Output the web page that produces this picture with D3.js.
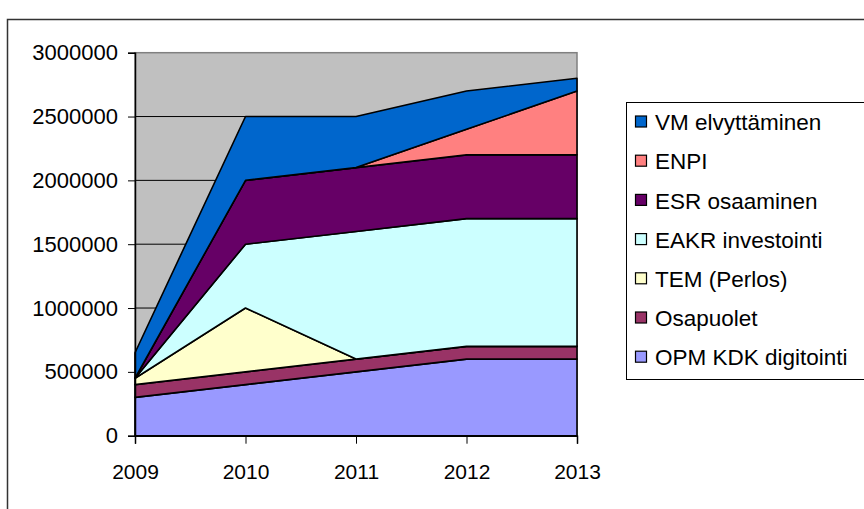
<!DOCTYPE html>
<html>
<head>
<meta charset="utf-8">
<script src="https://cdn.jsdelivr.net/npm/d3@7"></script>
<style>
  html, body { margin: 0; padding: 0; background: #fff; }
  svg { display: block; font-family: "Liberation Sans", Arial, sans-serif; }
</style>
</head>
<body>
<svg id="chart" width="864" height="509"></svg>
<script>
const years = ["2009", "2010", "2011", "2012", "2013"];
const seriesNames = ["OPM KDK digitointi", "Osapuolet", "TEM (Perlos)", "EAKR investointi", "ESR osaaminen", "ENPI", "VM elvyttäminen"];
const opmKdk   = [300000, 400000, 500000, 600000, 600000];
const osapuolet = [100000, 100000, 100000, 100000, 100000];
const temPerlos = [50000, 500000, 0, 0, 0];
const eakr     = [0, 500000, 1000000, 1000000, 1000000];
const esr      = [0, 500000, 500000, 500000, 500000];
const enpi     = [0, 0, 0, 200000, 500000];
const vm       = [200000, 500000, 400000, 300000, 100000];
const yTicks = [0, 500000, 1000000, 1500000, 2000000, 2500000, 3000000];
const colors = ["#9999FF", "#993366", "#FFFFCC", "#CCFFFF", "#660066", "#FF8080", "#0066CC"];

const seriesValues = [opmKdk, osapuolet, temPerlos, eakr, esr, enpi, vm];
const table = years.map((yr, i) => {
  const row = { year: yr };
  seriesNames.forEach((n, k) => row[n] = seriesValues[k][i]);
  return row;
});

const svg = d3.select("#chart");
const pLeft = 135, pRight = 577, pTop = 52.7, pBottom = 435.7;

// outer frame
svg.append("rect").attr("x", 7.5).attr("y", 19.5).attr("width", 900).attr("height", 600)
  .attr("fill", "none").attr("stroke", "#333").attr("stroke-width", 1.5);

const x = d3.scalePoint().domain(years).range([pLeft, pRight]);
const y = d3.scaleLinear().domain([0, 3000000]).range([pBottom, pTop]);

// plot area background
svg.append("rect").attr("x", pLeft).attr("y", pTop).attr("width", pRight - pLeft).attr("height", pBottom - pTop)
  .attr("fill", "#C0C0C0").attr("stroke", "#808080").attr("stroke-width", 1.5);

// gridlines
svg.append("g").selectAll("line").data(yTicks.filter(t => t > 0 && t < 3000000)).join("line")
  .attr("x1", pLeft).attr("x2", pRight).attr("y1", d => y(d)).attr("y2", d => y(d))
  .attr("stroke", "#000").attr("stroke-width", 1);

const stack = d3.stack().keys(seriesNames);
const layers = stack(table);
const area = d3.area()
  .x(d => x(d.data.year))
  .y0(d => y(d[0]))
  .y1(d => y(d[1]));

svg.append("g").selectAll("path").data(layers).join("path")
  .attr("d", area)
  .attr("fill", (d, i) => colors[i])
  .attr("stroke", "#000").attr("stroke-width", 1.6).attr("stroke-linejoin", "round");

// y axis
const yAxis = d3.axisLeft(y).tickValues(yTicks).tickFormat(d3.format("d")).tickSize(7).tickPadding(10);
const gy = svg.append("g").attr("transform", `translate(${pLeft},0)`).call(yAxis);
gy.select(".domain").attr("stroke", "#000").attr("stroke-width", 1.5);
gy.selectAll(".tick line").attr("stroke", "#000");
gy.selectAll(".tick text").attr("font-size", 22).attr("fill", "#000")
  .attr("font-family", "'Liberation Sans', Arial, sans-serif");

// x axis
const xAxis = d3.axisBottom(x).tickSize(8).tickPadding(20);
const gx = svg.append("g").attr("transform", `translate(0,${pBottom})`).call(xAxis);
gx.select(".domain").attr("stroke", "#000").attr("stroke-width", 1.5);
gx.selectAll(".tick line").attr("stroke", "#000");
gx.selectAll(".tick text").attr("font-size", 21).attr("fill", "#000")
  .attr("font-family", "'Liberation Sans', Arial, sans-serif");

// legend
svg.append("rect").attr("x", 626.5).attr("y", 102.5).attr("width", 300).attr("height", 277)
  .attr("fill", "#fff").attr("stroke", "#000").attr("stroke-width", 1);
const legendOrder = seriesNames.map((n, i) => ({ name: n, color: colors[i] })).reverse();
const lg = svg.append("g").selectAll("g").data(legendOrder).join("g")
  .attr("transform", (d, i) => `translate(0,${122 + i * 39.2})`);
lg.append("rect").attr("x", 635.5).attr("y", -6).attr("width", 11).attr("height", 11)
  .attr("fill", d => d.color).attr("stroke", "#000").attr("stroke-width", 1.2);
lg.append("text").attr("x", 655).attr("y", 0).attr("dy", "0.36em")
  .attr("font-size", 22.5).attr("fill", "#000").text(d => d.name);
</script>
</body>
</html>
